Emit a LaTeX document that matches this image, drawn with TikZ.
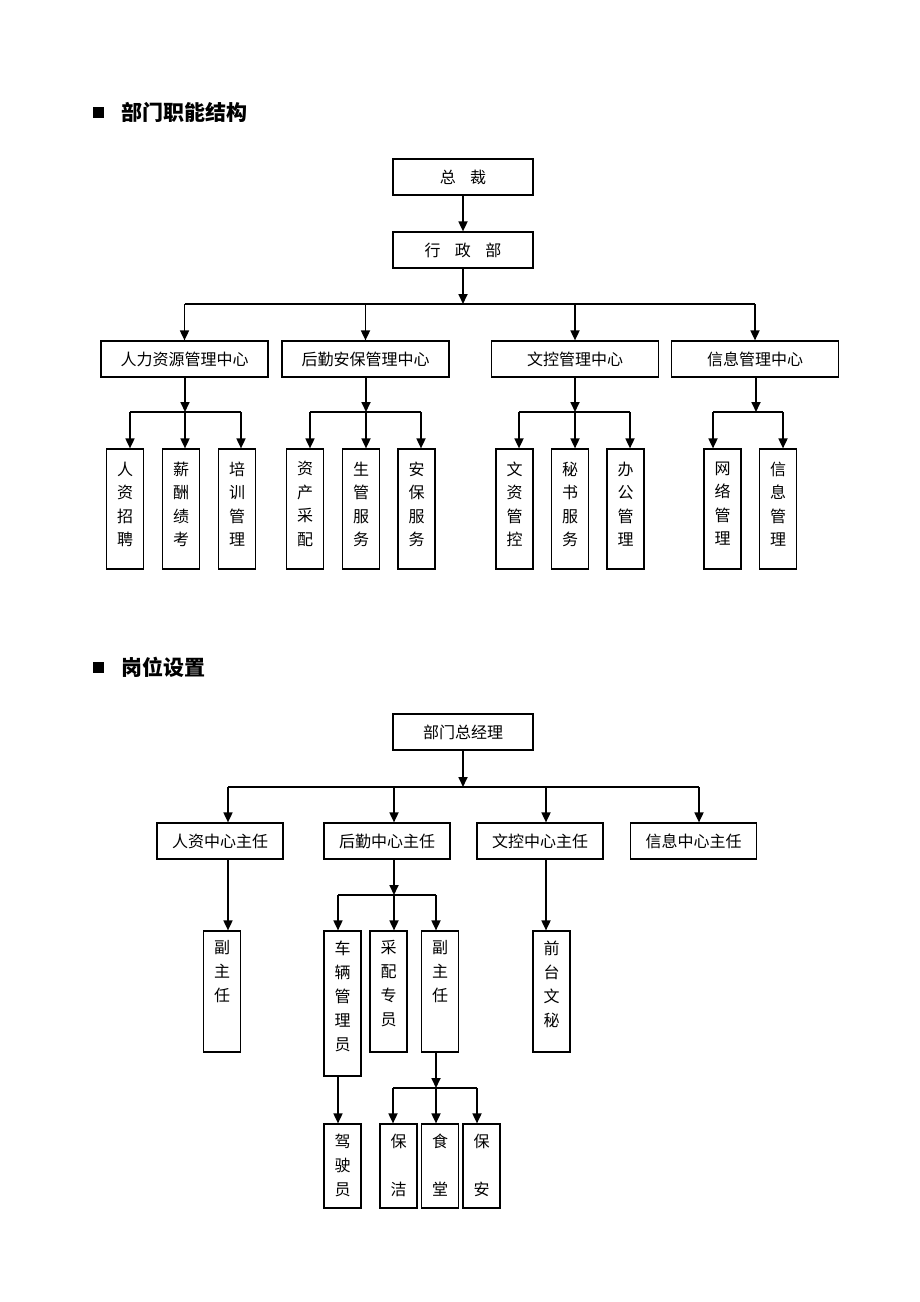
\documentclass[tikz,border=0pt]{standalone}
\usepackage{fontspec}
\newfontfamily\cjk{Noto Sans CJK SC}
\usetikzlibrary{arrows.meta,calc}
\begin{document}
\begin{tikzpicture}[x=1pt,y=-1pt,
  box/.style={draw, line width=1.2pt, inner sep=0pt, font=\cjk\fontsize{16}{16}\selectfont},
  leaf/.style={draw, line width=1.2pt, inner sep=0pt, minimum width=37pt, minimum height=120pt},
  tb/.style={draw, line width=1.2pt, inner sep=0pt, minimum width=37pt},
  txt/.style={inner sep=0pt, align=center, anchor=north, font=\cjk\fontsize{16}{24}\selectfont},
  ltxt/.style={inner sep=0pt, align=center, anchor=north, font=\cjk\fontsize{16}{23.5}\selectfont},
  mb/.style={box, minimum width=126pt, minimum height=36pt},
  cb/.style={box, minimum width=167pt, minimum height=36pt},
  topb/.style={box, minimum width=140pt, minimum height=36pt},
  arr/.style={line width=1.7pt, -{Triangle[length=10pt,width=9pt]}},
  ln/.style={line width=1.7pt},
  head/.style={inner sep=0pt, anchor=west, font=\cjk\bfseries\fontsize{21}{21}\selectfont},
  sq/.style={fill=black, minimum size=11pt, inner sep=0pt}]
\useasboundingbox[fill=white] (0,0) rectangle (920,1302);

% ---------------- Section 1 ----------------
\node[sq] (s1) at (98,112) {};
\node[head] (h1) at (121,112) {部门职能结构};

\node[topb] (zc) at (463,177) {总\hspace{0.9em}裁};
\node[topb] (xzb) at (463,250) {行\hspace{0.9em}政\hspace{0.9em}部};
\draw[arr] (zc) -- (xzb);
\coordinate (b0) at (463,304);
\draw[arr] (xzb) -- (b0);

\node[cb] (c1) at (184.5,359) {人力资源管理中心};
\node[cb] (c2) at (365.5,359) {后勤安保管理中心};
\node[cb] (c3) at (575,359) {文控管理中心};
\node[cb] (c4) at (755,359) {信息管理中心};
\draw[ln] (c1.north |- b0) -- (c4.north |- b0);
\foreach \c in {c1,c2,c3,c4} \draw[arr] (\c.north |- b0) -- (\c.north);

\node[leaf] (l11) at (125,509) {};
\node[ltxt] at ([yshift=-13pt]l11.north) {人\\资\\招\\聘};
\node[leaf] (l12) at (181,509) {};
\node[ltxt] at ([yshift=-13pt]l12.north) {薪\\酬\\绩\\考};
\node[leaf] (l13) at (237,509) {};
\node[ltxt] at ([yshift=-13pt]l13.north) {培\\训\\管\\理};
\node[leaf] (l21) at (305,509) {};
\node[ltxt] at ([yshift=-13pt]l21.north) {资\\产\\采\\配};
\node[leaf] (l22) at (361,509) {};
\node[ltxt] at ([yshift=-13pt]l22.north) {生\\管\\服\\务};
\node[leaf] (l23) at (416.5,509) {};
\node[ltxt] at ([yshift=-13pt]l23.north) {安\\保\\服\\务};
\node[leaf] (l31) at (514.5,509) {};
\node[ltxt] at ([yshift=-13pt]l31.north) {文\\资\\管\\控};
\node[leaf] (l32) at (570,509) {};
\node[ltxt] at ([yshift=-13pt]l32.north) {秘\\书\\服\\务};
\node[leaf] (l33) at (625.5,509) {};
\node[ltxt] at ([yshift=-13pt]l33.north) {办\\公\\管\\理};
\node[leaf] (l41) at (722.5,509) {};
\node[ltxt] at ([yshift=-13pt]l41.north) {网\\络\\管\\理};
\node[leaf] (l42) at (778,509) {};
\node[ltxt] at ([yshift=-13pt]l42.north) {信\\息\\管\\理};

\coordinate (p11) at (130,412); \coordinate (p12) at (185,412); \coordinate (p13) at (241,412);
\coordinate (p21) at (310,412); \coordinate (p22) at (366,412); \coordinate (p23) at (421,412);
\coordinate (p31) at (519,412); \coordinate (p32) at (575,412); \coordinate (p33) at (630,412);
\coordinate (p41) at (713,412); \coordinate (p4m) at (756,412); \coordinate (p42) at (783,412);

\draw[arr] (p12 |- c1.south) -- (p12);
\draw[arr] (p22 |- c2.south) -- (p22);
\draw[arr] (p32 |- c3.south) -- (p32);
\draw[arr] (p4m |- c4.south) -- (p4m);
\draw[ln] (p11) -- (p13);
\draw[ln] (p21) -- (p23);
\draw[ln] (p31) -- (p33);
\draw[ln] (p41) -- (p42);
\draw[arr] (p11) -- (p11 |- l11.north);
\draw[arr] (p12) -- (p12 |- l12.north);
\draw[arr] (p13) -- (p13 |- l13.north);
\draw[arr] (p21) -- (p21 |- l21.north);
\draw[arr] (p22) -- (p22 |- l22.north);
\draw[arr] (p23) -- (p23 |- l23.north);
\draw[arr] (p31) -- (p31 |- l31.north);
\draw[arr] (p32) -- (p32 |- l32.north);
\draw[arr] (p33) -- (p33 |- l33.north);
\draw[arr] (p41) -- (p41 |- l41.north);
\draw[arr] (p42) -- (p42 |- l42.north);

% ---------------- Section 2 ----------------
\node[sq] (s2) at (98,667) {};
\node[head] (h2) at (121,667) {岗位设置};

\node[topb] (bz) at (463,732) {部门总经理};
\coordinate (q0) at (463,787);
\draw[arr] (bz) -- (q0);

\node[mb] (m1) at (220,841) {人资中心主任};
\node[mb] (m2) at (387,841) {后勤中心主任};
\node[mb] (m3) at (540,841) {文控中心主任};
\node[mb] (m4) at (693.5,841) {信息中心主任};
\coordinate (q1) at (228,787); \coordinate (q2) at (394,787);
\coordinate (q3) at (546,787); \coordinate (q4) at (699,787);
\draw[ln] (q1) -- (q4);
\draw[arr] (q1) -- (q1 |- m1.north);
\draw[arr] (q2) -- (q2 |- m2.north);
\draw[arr] (q3) -- (q3 |- m3.north);
\draw[arr] (q4) -- (q4 |- m4.north);

\node[tb, minimum height=121pt] (f1) at (222,991.5) {};
\node[txt] at ([yshift=-10pt]f1.north) {副\\主\\任};
\node[tb, minimum height=145pt] (cl) at (342.5,1003.5) {};
\node[txt] at ([yshift=-10pt]cl.north) {车\\辆\\管\\理\\员};
\node[tb, minimum height=121pt] (cp) at (388.5,991.5) {};
\node[txt] at ([yshift=-10pt]cp.north) {采\\配\\专\\员};
\node[tb, minimum height=121pt] (f2) at (440,991.5) {};
\node[txt] at ([yshift=-10pt]f2.north) {副\\主\\任};
\node[tb, minimum height=121pt] (qt) at (551.5,991.5) {};
\node[txt] at ([yshift=-10pt]qt.north) {前\\台\\文\\秘};

\draw[arr] (q1 |- m1.south) -- (q1 |- f1.north);
\draw[arr] (q3 |- m3.south) -- (q3 |- qt.north);

\coordinate (r0) at (394,895); \coordinate (r1) at (338,895); \coordinate (r3) at (436,895);
\draw[arr] (q2 |- m2.south) -- (r0);
\draw[ln] (r1) -- (r3);
\draw[arr] (r1) -- (r1 |- cl.north);
\draw[arr] (r0) -- (r0 |- cp.north);
\draw[arr] (r3) -- (r3 |- f2.north);

\node[tb, minimum height=84pt] (js) at (342.5,1166) {};
\node[txt] at ([yshift=-10pt]js.north) {驾\\驶\\员};
\node[tb, minimum height=84pt] (bj) at (398.5,1166) {};
\node[txt] at ([yshift=-10pt]bj.north) {保\\~\\洁};
\node[tb, minimum height=84pt] (st) at (440,1166) {};
\node[txt] at ([yshift=-10pt]st.north) {食\\~\\堂};
\node[tb, minimum height=84pt] (ba) at (481.5,1166) {};
\node[txt] at ([yshift=-10pt]ba.north) {保\\~\\安};

\draw[arr] (r1 |- cl.south) -- (r1 |- js.north);
\coordinate (t0) at (436,1088); \coordinate (t1) at (393,1088); \coordinate (t3) at (477,1088);
\draw[arr] (r3 |- f2.south) -- (t0);
\draw[ln] (t1) -- (t3);
\draw[arr] (t1) -- (t1 |- bj.north);
\draw[arr] (t0) -- (t0 |- st.north);
\draw[arr] (t3) -- (t3 |- ba.north);
\end{tikzpicture}
\end{document}
